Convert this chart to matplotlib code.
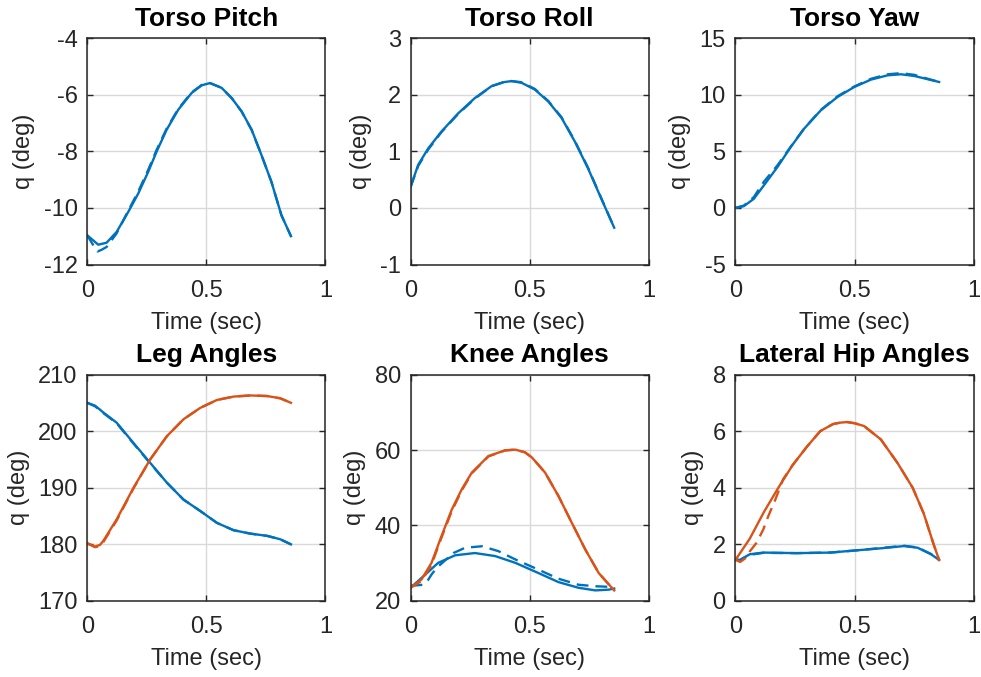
import matplotlib
matplotlib.use('Agg')
import matplotlib.pyplot as plt

plt.rcParams['font.family'] = ['Liberation Sans', 'DejaVu Sans']

BLUE = '#0072BD'
ORANGE = '#D95319'
DARK = '#262626'

# Torso pitch
t_pitch = [0, 0.046, 0.081, 0.123, 0.172, 0.214, 0.256, 0.291, 0.333, 0.382, 0.438,
           0.48, 0.515, 0.564, 0.606, 0.648, 0.69, 0.731, 0.773, 0.815, 0.855]
pitch_act = [-10.97, -11.30, -11.23, -10.85, -10.14, -9.49, -8.72, -8.01, -7.24, -6.53, -5.94,
             -5.67, -5.59, -5.76, -6.12, -6.59, -7.24, -8.13, -9.08, -10.26, -11.0]
t_pitch_d = [0, 0.02, 0.043, 0.06, 0.081, 0.123, 0.172, 0.214, 0.256, 0.291, 0.333, 0.382,
             0.438, 0.48, 0.515, 0.564, 0.606, 0.648, 0.69, 0.731, 0.773, 0.815, 0.855]
pitch_des = [-10.97, -11.25, -11.54, -11.48, -11.38, -10.9, -10.1, -9.42, -8.65, -7.95, -7.2, -6.5,
             -5.92, -5.66, -5.59, -5.76, -6.12, -6.6, -7.25, -8.13, -9.08, -10.26, -11.0]

# Torso roll
t_roll = [0, 0.032, 0.074, 0.13, 0.2, 0.27, 0.34, 0.39, 0.424, 0.466, 0.522, 0.578, 0.634,
          0.69, 0.745, 0.80, 0.855]
roll_act = [0.37, 0.76, 1.05, 1.35, 1.67, 1.94, 2.15, 2.22, 2.24, 2.21, 2.09, 1.88, 1.59,
            1.17, 0.70, 0.17, -0.35]
roll_des = [0.37, 0.74, 1.03, 1.34, 1.66, 1.93, 2.15, 2.22, 2.24, 2.22, 2.10, 1.89, 1.60,
            1.18, 0.71, 0.18, -0.35]

# Torso yaw
t_yaw = [0, 0.035, 0.077, 0.119, 0.176, 0.232, 0.288, 0.358, 0.428, 0.499, 0.569, 0.639,
         0.695, 0.751, 0.808, 0.855]
yaw_act = [0, 0.15, 0.8, 1.98, 3.6, 5.37, 6.99, 8.61, 9.79, 10.68, 11.33, 11.71,
           11.8, 11.65, 11.36, 11.12]
yaw_des = [0, 0.2, 0.95, 2.3, 3.75, 5.4, 7.0, 8.65, 9.85, 10.72, 11.4, 11.8,
           11.9, 11.75, 11.4, 11.12]

# Leg angles
t_leg = [0, 0.032, 0.053, 0.067, 0.123, 0.194, 0.264, 0.334, 0.404, 0.474, 0.544, 0.614,
         0.684, 0.755, 0.81, 0.855]
leg1_act = [205.0, 204.5, 203.8, 203.3, 201.5, 197.9, 194.4, 190.9, 187.9, 185.9, 183.8, 182.5,
            181.9, 181.5, 180.9, 180.0]
leg1_des = [205.0, 204.4, 203.7, 203.2, 201.4, 197.8, 194.3, 190.9, 187.9, 185.9, 183.8, 182.5,
            181.9, 181.5, 180.9, 180.0]
leg2_act = [180.2, 179.6, 179.9, 180.6, 184.4, 190.0, 195.0, 199.1, 202.1, 204.1, 205.5, 206.1,
            206.3, 206.2, 205.8, 205.0]
leg2_des = [180.2, 179.5, 179.7, 180.4, 184.2, 189.9, 195.0, 199.1, 202.1, 204.1, 205.5, 206.1,
            206.3, 206.2, 205.8, 205.0]

# Knee angles
t_knee2 = [0, 0.046, 0.088, 0.13, 0.173, 0.215, 0.257, 0.327, 0.397, 0.44, 0.48, 0.51, 0.565,
           0.621, 0.677, 0.734, 0.79, 0.855]
knee2_act = [23.5, 25.7, 30.1, 37.2, 44.2, 49.6, 54.0, 58.4, 59.9, 60.1, 59.4, 58.0, 54.0,
             47.8, 40.7, 33.6, 27.4, 22.8]
knee2_des = [23.5, 25.3, 29.6, 36.8, 43.8, 49.3, 53.8, 58.3, 59.9, 60.1, 59.4, 58.0, 54.0,
             47.8, 40.7, 33.6, 27.4, 22.8]
t_knee1 = [0, 0.046, 0.116, 0.187, 0.27, 0.355, 0.44, 0.537, 0.621, 0.705, 0.776, 0.832, 0.855]
knee1_act = [23.5, 26.1, 30.1, 32.1, 32.7, 31.9, 30.1, 27.4, 25.0, 23.5, 22.8, 23.0, 23.3]
t_knee1_d = [0, 0.053, 0.07, 0.088, 0.11, 0.18, 0.229, 0.3, 0.369, 0.44, 0.537, 0.621,
             0.705, 0.776, 0.855]
knee1_des = [24.0, 24.3, 25.2, 27.0, 28.8, 32.7, 34.1, 34.5, 33.2, 31.0, 28.3, 25.9,
             24.3, 23.9, 23.7]

# Lateral hip angles
t_hip2 = [0, 0.06, 0.12, 0.18, 0.24, 0.3, 0.356, 0.41, 0.44, 0.469, 0.5, 0.54, 0.61, 0.68,
          0.744, 0.79, 0.832, 0.855]
hip2_act = [1.45, 2.2, 3.15, 4.0, 4.8, 5.45, 6.0, 6.25, 6.3, 6.32, 6.28, 6.18, 5.71, 4.88,
            4.0, 3.1, 2.0, 1.45]
t_hip2_d = [0, 0.02, 0.04, 0.06, 0.089, 0.117, 0.138, 0.166, 0.2, 0.24, 0.3, 0.356, 0.41,
            0.44, 0.469, 0.5, 0.54, 0.61, 0.68, 0.744, 0.79, 0.832, 0.855]
hip2_des = [1.45, 1.38, 1.5, 1.75, 2.06, 2.53, 3.0, 3.55, 4.3, 4.8, 5.45, 6.0, 6.25,
            6.3, 6.32, 6.28, 6.18, 5.71, 4.88, 4.0, 3.1, 2.0, 1.45]
t_hip1 = [0, 0.018, 0.06, 0.117, 0.258, 0.399, 0.511, 0.61, 0.708, 0.765, 0.821, 0.855]
hip1_act = [1.47, 1.45, 1.65, 1.71, 1.69, 1.71, 1.79, 1.86, 1.94, 1.88, 1.65, 1.45]
hip1_des = [1.47, 1.43, 1.63, 1.70, 1.69, 1.71, 1.79, 1.87, 1.95, 1.89, 1.66, 1.45]

titles = ['Torso Pitch', 'Torso Roll', 'Torso Yaw', 'Leg Angles', 'Knee Angles', 'Lateral Hip Angles']
ylims = [(-12, -4), (-1, 3), (-5, 15), (170, 210), (20, 80), (0, 8)]
yticks = [[-12, -10, -8, -6, -4], [-1, 0, 1, 2, 3], [-5, 0, 5, 10, 15],
          [170, 180, 190, 200, 210], [20, 40, 60, 80], [0, 2, 4, 6, 8]]

panels = [
    [(t_pitch, pitch_act, t_pitch_d, pitch_des, BLUE)],
    [(t_roll, roll_act, t_roll, roll_des, BLUE)],
    [(t_yaw, yaw_act, t_yaw, yaw_des, BLUE)],
    [(t_leg, leg1_act, t_leg, leg1_des, BLUE), (t_leg, leg2_act, t_leg, leg2_des, ORANGE)],
    [(t_knee1, knee1_act, t_knee1_d, knee1_des, BLUE), (t_knee2, knee2_act, t_knee2, knee2_des, ORANGE)],
    [(t_hip1, hip1_act, t_hip1, hip1_des, BLUE), (t_hip2, hip2_act, t_hip2_d, hip2_des, ORANGE)],
]

fig = plt.figure(figsize=(9.81, 6.77), dpi=100)
lefts = [0.0890, 0.4185, 0.7497]
bottoms = [0.6093, 0.1123]
w, h = 0.2428, 0.3345

for i in range(6):
    ax = fig.add_axes([lefts[i % 3], bottoms[i // 3], w, h])
    for ta, ya, td, yd, c in panels[i]:
        ax.plot(ta, ya, color=c, lw=1.7)
        ax.plot(td, yd, color=c, lw=1.7, linestyle=(0, (5, 3)))
    ax.set_xlim(0, 1)
    ax.set_ylim(*ylims[i])
    ax.set_xticks([0, 0.5, 1])
    ax.set_xticklabels(['0', '0.5', '1'])
    ax.set_yticks(yticks[i])
    ax.set_yticklabels([str(v) for v in yticks[i]])
    ax.grid(True, color='#d9d9d9', lw=1)
    ax.set_axisbelow(True)
    ax.tick_params(direction='in', length=4, width=1, colors=DARK, labelsize=17,
                   top=True, right=True)
    ax.tick_params(axis='x', pad=11)
    ax.tick_params(axis='y', pad=7)
    for s in ax.spines.values():
        s.set_color(DARK)
        s.set_linewidth(1.1)
    ax.set_title(titles[i], fontsize=19, fontweight='bold', pad=9)
    ax.set_xlabel('Time (sec)', fontsize=17, color=DARK, labelpad=7)
    ax.set_ylabel('q (deg)', fontsize=17, color=DARK, labelpad=6)

fig.savefig('out.png', dpi=100)
